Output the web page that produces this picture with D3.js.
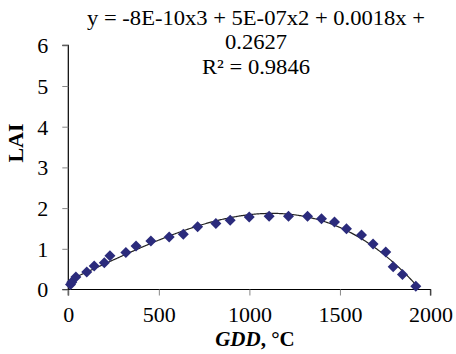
<!DOCTYPE html>
<html>
<head>
<meta charset="utf-8">
<script src="https://cdn.jsdelivr.net/npm/d3@7"></script>
<style>
  body { margin: 0; background: #fff; }
</style>
</head>
<body>
<div id="chart"></div>
<script>
// GDD (°C) and LAI
const gdd = [12, 19, 42, 102, 143, 199, 230, 318, 374, 456, 557, 635, 714, 815, 894, 999,
             1109, 1216, 1321, 1398, 1470, 1536, 1619, 1683, 1753, 1794, 1845, 1919];
const lai = [0.12, 0.18, 0.31, 0.43, 0.58, 0.66, 0.83, 0.91, 1.07, 1.19, 1.29, 1.36, 1.54, 1.62, 1.70, 1.78,
             1.80, 1.80, 1.80, 1.74, 1.66, 1.49, 1.34, 1.12, 0.92, 0.56, 0.37, 0.08];
const xTicks = [0, 500, 1000, 1500, 2000];
const yTicks = [0, 1, 2, 3, 4, 5, 6];
const eqLines = ['y = -8E-10x3 + 5E-07x2 + 0.0018x +', '0.2627', 'R² = 0.9846'];

const serif = "'Liberation Serif'";
const width = 456, height = 354;

const svg = d3.select('#chart').append('svg')
  .attr('width', width)
  .attr('height', height);

const x = d3.scaleLinear().domain([0, 2000]).range([68.3, 430.5]);
const y = d3.scaleLinear().domain([0, 6]).range([289.5, 45.3]);

// least squares cubic, like the spreadsheet trendline
function polyfit(xs, ys, deg) {
  const n = deg + 1;
  const A = [];
  for (let i = 0; i < n; i++) {
    A.push([]);
    for (let j = 0; j <= n; j++) A[i].push(0);
  }
  xs.forEach((xv, k) => {
    for (let i = 0; i < n; i++) {
      for (let j = 0; j < n; j++) A[i][j] += Math.pow(xv, i + j);
      A[i][n] += ys[k] * Math.pow(xv, i);
    }
  });
  for (let i = 0; i < n; i++) {
    let p = i;
    for (let r = i + 1; r < n; r++) if (Math.abs(A[r][i]) > Math.abs(A[p][i])) p = r;
    [A[i], A[p]] = [A[p], A[i]];
    for (let r = 0; r < n; r++) {
      if (r === i) continue;
      const f = A[r][i] / A[i][i];
      for (let c = i; c <= n; c++) A[r][c] -= f * A[i][c];
    }
  }
  return A.map((row, i) => row[n] / row[i]);
}
const coef = polyfit(gdd, lai, 3);
const fit = v => coef.reduce((s, c, i) => s + c * Math.pow(v, i), 0);

// axes
const xAxis = d3.axisBottom(x).tickValues(xTicks).tickSize(6).tickFormat(d3.format('d'));
const yAxis = d3.axisLeft(y).tickValues(yTicks).tickSize(6).tickFormat(d3.format('d'));

svg.append('g')
  .attr('class', 'x axis')
  .attr('transform', 'translate(0,' + y(0) + ')')
  .call(xAxis)
  .call(g => g.selectAll('text').attr('dy', null).attr('y', 32.5)
    .style('font-family', serif).style('font-size', '22px').attr('fill', '#000'));

svg.append('g')
  .attr('class', 'y axis')
  .attr('transform', 'translate(' + x(0) + ',0)')
  .call(yAxis)
  .call(g => g.selectAll('text').attr('x', -20).attr('dy', '0.34em')
    .style('font-family', serif).style('font-size', '22px').attr('fill', '#000'));

svg.selectAll('.axis .domain').attr('stroke', '#000').attr('stroke-width', 1.2);
svg.selectAll('.axis .tick line').attr('stroke', '#888');
svg.selectAll('.x.axis .domain').attr('d', 'M' + x(0) + ',6V0H' + x(2000) + 'V6');
svg.selectAll('.y.axis .domain').attr('d', 'M-6,' + y(6) + 'H0V' + y(0) + 'H-6');

// trendline
const xs = d3.range(d3.min(gdd), d3.max(gdd) + 1, 5);
svg.append('path')
  .datum(xs)
  .attr('fill', 'none')
  .attr('stroke', '#222')
  .attr('stroke-width', 1.2)
  .attr('d', d3.line().x(d => x(d)).y(d => y(fit(d))));

// points
svg.selectAll('.pt')
  .data(gdd)
  .enter().append('path')
  .attr('class', 'pt')
  .attr('transform', (d, i) => 'translate(' + x(d) + ',' + y(lai[i]) + ')')
  .attr('d', 'M0,-5.5L5.5,0L0,5.5L-5.5,0Z')
  .attr('fill', '#2b2b7c');

// equation label (slightly wide in the original)
svg.append('g')
  .attr('transform', 'translate(256,0) scale(1.05,1)')
  .selectAll('text')
  .data(eqLines)
  .enter().append('text')
  .attr('x', 0)
  .attr('y', (d, i) => 25 + i * 24.5)
  .attr('text-anchor', 'middle')
  .style('font-family', serif)
  .style('font-size', '21.5px')
  .text(d => d);

// axis titles
svg.append('text')
  .attr('transform', 'translate(23,143) rotate(-90)')
  .attr('text-anchor', 'middle')
  .style('font-family', serif)
  .style('font-size', '22px')
  .style('font-weight', 'bold')
  .text('LAI');

const xt = svg.append('text')
  .attr('x', 255)
  .attr('y', 346)
  .attr('text-anchor', 'middle')
  .style('font-family', serif)
  .style('font-size', '21px')
  .style('font-weight', 'bold');
xt.append('tspan').style('font-style', 'italic').text('GDD');
xt.append('tspan').text(', °C');
</script>
</body>
</html>
